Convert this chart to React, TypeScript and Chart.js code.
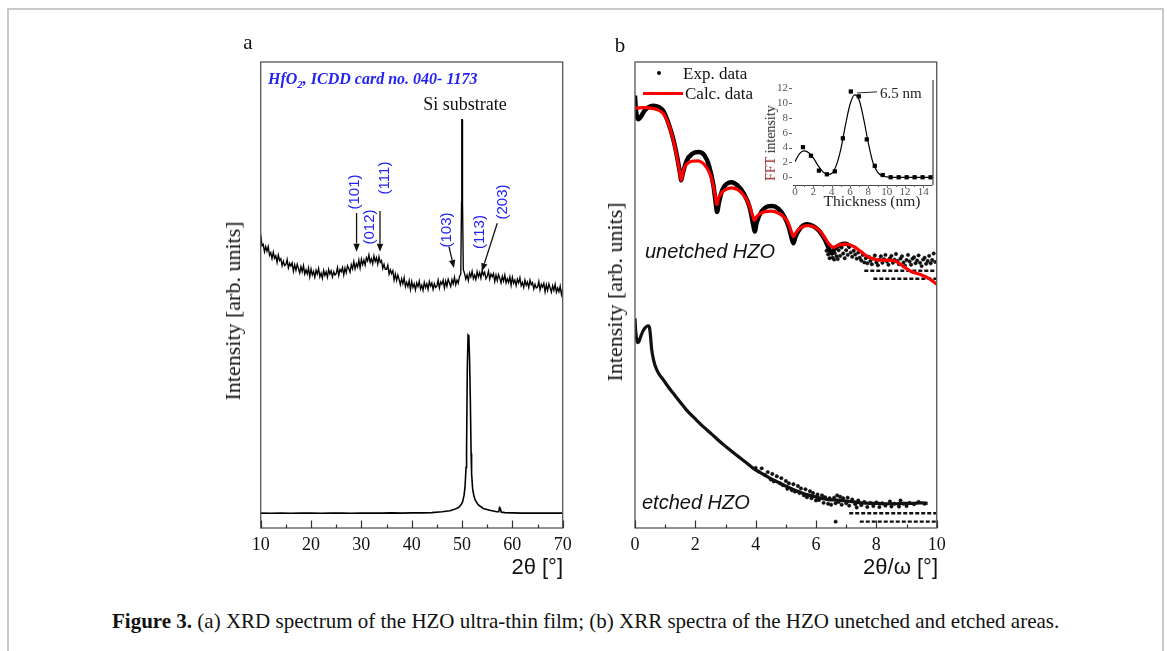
import React, { useEffect, useRef } from "react";
import { Chart, registerables } from "chart.js";
Chart.register(...registerables);

// ---------------- Panel a : XRD ----------------
const xrdFilmAngle = [
  10, 10.25, 10.5, 10.75, 11, 11.25, 11.5, 11.75, 12, 12.25, 12.5, 12.75, 13, 13.25, 13.5, 13.75, 14, 14.25, 14.5, 14.75,
  15, 15.25, 15.5, 15.75, 16, 16.25, 16.5, 16.75, 17, 17.25, 17.5, 17.75, 18, 18.25, 18.5, 18.75, 19, 19.25, 19.5, 19.75,
  20, 20.25, 20.5, 20.75, 21, 21.25, 21.5, 21.75, 22, 22.25, 22.5, 22.75, 23, 23.25, 23.5, 23.75, 24, 24.25, 24.5, 24.75,
  25, 25.25, 25.5, 25.75, 26, 26.25, 26.5, 26.75, 27, 27.25, 27.5, 27.75, 28, 28.25, 28.5, 28.75, 29, 29.25, 29.5, 29.75,
  30, 30.25, 30.5, 30.75, 31, 31.25, 31.5, 31.75, 32, 32.25, 32.5, 32.75, 33, 33.25, 33.5, 33.75, 34, 34.25, 34.5, 34.75,
  35, 35.25, 35.5, 35.75, 36, 36.25, 36.5, 36.75, 37, 37.25, 37.5, 37.75, 38, 38.25, 38.5, 38.75, 39, 39.25, 39.5, 39.75,
  40, 40.25, 40.5, 40.75, 41, 41.25, 41.5, 41.75, 42, 42.25, 42.5, 42.75, 43, 43.25, 43.5, 43.75, 44, 44.25, 44.5, 44.75,
  45, 45.25, 45.5, 45.75, 46, 46.25, 46.5, 46.75, 47, 47.25, 47.5, 47.75, 48, 48.25, 48.5, 48.75, 49, 49.25, 49.5,
  49.75, 49.9, 49.95, 50.05, 50.1, 50.25,
  50.5, 50.75, 51, 51.25, 51.5, 51.75, 52, 52.25, 52.5, 52.75, 53, 53.25, 53.5, 53.75, 54, 54.25, 54.5, 54.75,
  55, 55.25, 55.5, 55.75, 56, 56.25, 56.5, 56.75, 57, 57.25, 57.5, 57.75, 58, 58.25, 58.5, 58.75, 59, 59.25, 59.5, 59.75,
  60, 60.25, 60.5, 60.75, 61, 61.25, 61.5, 61.75, 62, 62.25, 62.5, 62.75, 63, 63.25, 63.5, 63.75, 64, 64.25, 64.5, 64.75,
  65, 65.25, 65.5, 65.75, 66, 66.25, 66.5, 66.75, 67, 67.25, 67.5, 67.75, 68, 68.25, 68.5, 68.75, 69, 69.25, 69.5, 69.75, 70,
];
const xrdFilmIntensity = [
  63.0, 60.6, 60.9, 59.3, 60.4, 59.4, 60.4, 58.5, 59.1, 57.8, 59.2, 57.9, 58.4, 57.0, 58.6, 57.4, 57.8, 56.3, 57.3, 56.3,
  56.5, 57.6, 55.8, 56.8, 56.2, 56.9, 55.1, 56.5, 55.3, 56.6, 55.7, 54.7, 56.1, 55.0, 56.3, 54.5, 55.4, 54.5, 55.8, 53.9,
  55.6, 54.3, 55.1, 53.8, 55.3, 54.5, 55.7, 53.9, 54.7, 53.6, 55.3, 54.2, 55.0, 53.8, 55.5, 54.5, 55.2, 53.9, 55.0, 54.3,
  54.6, 55.9, 54.2, 55.5, 55.0, 55.9, 54.3, 55.8, 54.8, 56.3, 55.7, 54.9, 56.5, 55.6, 57.2, 55.6, 56.7, 56.0, 57.5, 55.8,
  57.7, 56.5, 57.5, 56.4, 58.0, 57.3, 58.6, 57.0, 57.8, 56.7, 58.4, 57.2, 58.0, 56.6, 58.2, 57.0, 57.4, 55.7, 56.6, 55.5,
  55.5, 56.4, 54.5, 55.4, 54.6, 55.2, 53.2, 54.5, 53.1, 54.3, 53.3, 52.2, 53.5, 52.4, 53.7, 51.8, 52.7, 51.8, 53.1, 51.2,
  52.9, 51.6, 52.4, 51.1, 52.6, 51.8, 53.0, 51.3, 52.1, 51.0, 52.7, 51.6, 52.4, 51.2, 52.9, 51.9, 52.6, 51.2, 52.4, 51.6,
  51.9, 53.2, 51.5, 52.8, 52.3, 53.2, 51.5, 53.0, 51.9, 53.4, 52.6, 51.8, 53.3, 52.4, 53.8, 52.2, 53.2, 52.5, 54.0,
  54.5, 70.0, 87.6, 87.6, 70.0, 55.5,
  54.6, 53.4, 54.3, 53.1, 54.7, 53.9, 55.1, 53.5, 54.3, 53.3, 55.0, 53.9, 54.8, 53.6, 55.3, 54.3, 54.9, 53.5,
  54.0, 55.1, 53.4, 54.5, 53.9, 54.6, 52.9, 54.3, 53.1, 54.4, 53.6, 52.6, 54.0, 53.0, 54.3, 52.6, 53.5, 52.7, 53.9, 52.1,
  53.8, 52.5, 53.2, 52.0, 53.4, 52.6, 53.7, 52.0, 52.7, 51.6, 53.2, 52.1, 52.8, 51.6, 53.2, 52.2, 52.7, 51.3, 52.3, 51.5,
  51.7, 52.9, 51.1, 52.3, 51.7, 52.5, 50.7, 52.2, 51.0, 52.4, 51.5, 50.6, 52.0, 51.0, 52.3, 50.6, 51.5, 50.7, 51.9, 50.1, 51.3,
];
const xrdSubAngle = [
  10, 12, 14, 16, 18, 20, 22, 24, 26, 28, 30, 32, 34, 36, 38, 40, 42, 44, 46, 47.6, 48.5, 49.3, 49.8, 50.1,
  50.4, 50.6, 50.8, 50.9, 51.05, 51.2, 51.35, 51.5, 51.65, 51.8, 51.9, 52.1, 52.3, 52.6, 53.2, 54.2, 55.5,
  56.9, 57.3, 57.45, 57.6, 57.8, 58.5, 60, 62, 64, 66, 68, 70,
];
const xrdSubIntensity = [
  3.2, 3.15, 3.2, 3.15, 3.2, 3.2, 3.15, 3.2, 3.2, 3.15, 3.2, 3.2, 3.2, 3.25, 3.2, 3.25, 3.25, 3.3, 3.5, 3.7, 4.0, 4.4, 5.0, 5.6,
  7.0, 8.9, 13.0, 16.7, 34.6, 41.4, 41.2, 36.0, 27.5, 16.0, 11.7, 8.5, 7.2, 6.0, 5.0, 4.2, 3.8,
  3.5, 3.5, 4.4, 4.2, 3.4, 3.3, 3.25, 3.2, 3.2, 3.2, 3.2, 3.2,
];
const xrdTicks = [10, 20, 30, 40, 50, 60, 70];
const xrdMinorTicks = [15, 25, 35, 45, 55, 65];

// ---------------- Panel b : XRR ----------------
const calcAngle = [
  0, 0.3, 0.6, 0.8, 0.94, 1.05, 1.16, 1.27, 1.38, 1.47, 1.53, 1.59, 1.66, 1.77, 1.88, 2.1, 2.25, 2.38, 2.5, 2.6,
  2.67, 2.71, 2.76, 2.87, 3.0, 3.2, 3.4, 3.59, 3.72, 3.81, 3.9, 3.96, 4.02, 4.14, 4.3, 4.53, 4.75, 4.97, 5.08, 5.16,
  5.22, 5.25, 5.3, 5.37, 5.47, 5.6, 5.74, 5.95, 6.13, 6.3, 6.41, 6.5, 6.57, 6.65, 6.8, 7.02, 7.25, 7.49, 7.7, 7.94,
  8.15, 8.38, 8.55, 8.71, 8.9, 9.17, 9.35, 9.5, 9.75, 10,
];
const calcIntensity = [
  90.1, 90.2, 90.0, 89.6, 88.9, 87.6, 85.8, 83.2, 80.0, 76.8, 74.6, 76.3, 77.6, 78.4, 78.7, 78.8, 78.3, 77.3, 75.7, 73.3,
  70.9, 69.4, 70.6, 71.9, 72.6, 73.0, 72.6, 71.5, 70.2, 68.8, 67.0, 66.0, 66.7, 67.4, 67.9, 68.0, 67.6, 66.5, 65.4, 64.0,
  62.9, 62.5, 63.0, 63.7, 64.3, 64.8, 64.9, 64.6, 63.7, 62.2, 61.1, 60.5, 60.2, 60.4, 60.8, 60.9, 60.4, 59.3, 58.3, 57.7,
  57.5, 57.5, 57.4, 57.0, 56.1, 55.0, 54.6, 54.3, 53.5, 52.3,
];
const expAngle = [
  0, 0.02, 0.05, 0.1, 0.15, 0.2, 0.3, 0.45, 0.6, 0.8, 0.94, 1.1, 1.27, 1.4, 1.5, 1.53, 1.58, 1.71, 1.9, 2.1,
  2.3, 2.45, 2.6, 2.68, 2.72, 2.78, 2.9, 3.05, 3.2, 3.4, 3.6, 3.8, 3.92, 3.97, 4.03, 4.2, 4.4, 4.55, 4.75, 4.95,
  5.1, 5.2, 5.25, 5.32, 5.5, 5.7, 5.9, 6.1, 6.3, 6.45, 6.52, 6.6, 6.8, 7.0, 7.15,
];
const expIntensity = [
  92.8, 90.5, 88.8, 87.7, 87.9, 88.3, 89.4, 90.3, 90.6, 90.3, 89.5, 87.0, 83.4, 79.5, 75.8, 74.6, 76.0, 78.8, 80.3, 80.7,
  80.0, 77.8, 73.5, 69.5, 67.8, 69.8, 72.6, 73.9, 74.2, 73.5, 71.8, 68.8, 65.0, 63.6, 65.5, 68.0, 69.0, 69.1, 68.5, 66.8,
  64.5, 62.0, 61.1, 62.5, 64.5, 65.2, 64.8, 63.8, 61.8, 59.6, 58.9, 59.8, 60.8, 61.0, 60.2,
];
const expScatterAngle = [
  6.35, 6.4, 6.45, 6.5, 6.55, 6.6, 6.62, 6.68, 6.72, 6.75, 6.8, 6.85, 6.9, 6.95, 7.0, 7.05, 7.1, 7.15, 7.2, 7.25,
  7.3, 7.35, 7.4, 7.45, 7.5, 7.55, 7.6, 7.65, 7.7, 7.75, 7.8, 7.85, 7.9, 7.95, 8.0, 8.05, 8.1, 8.15, 8.2, 8.25,
  8.3, 8.35, 8.4, 8.45, 8.5, 8.55, 8.6, 8.65, 8.7, 8.75, 8.8, 8.85, 8.9, 8.95, 9.0, 9.05, 9.1, 9.15, 9.2, 9.25,
  9.3, 9.35, 9.4, 9.45, 9.5, 9.55, 9.6, 9.65, 9.7, 9.75, 9.8, 9.85, 9.9, 9.95,
];
const expScatterIntensity = [
  59.5, 58.7, 57.9, 59.2, 58.0, 57.6, 59.0, 58.3, 57.7, 59.6, 58.4, 60.2, 58.9, 57.9, 59.6, 58.6, 60.3, 59.1, 58.2, 59.5,
  58.7, 57.8, 59.1, 58.0, 57.4, 58.6, 57.0, 57.9, 56.8, 58.2, 57.3, 56.6, 57.8, 58.5, 57.0, 56.4, 57.6, 58.3, 56.9, 57.7,
  58.6, 57.2, 56.5, 57.9, 58.4, 56.9, 57.6, 58.8, 57.3, 56.6, 57.8, 58.3, 57.0, 56.3, 57.5, 58.6, 57.2, 56.5, 57.8, 58.1,
  56.8, 57.4, 58.5, 56.9, 56.2, 57.6, 58.0, 56.7, 57.3, 58.4, 56.8, 57.5, 58.9, 57.1,
];
// quantised counting levels (rows of points) at high angle
const expRowLevels = [55.2, 53.5];
const expRowStart = [7.6, 7.9];
const expRowEnd = [10, 10];

const etchedAngle = [
  0, 0.02, 0.05, 0.08, 0.13, 0.19, 0.26, 0.33, 0.39, 0.44, 0.48, 0.51, 0.55, 0.6, 0.66, 0.78, 0.94, 1.1, 1.27, 1.5,
  1.71, 2.0, 2.27, 2.55, 2.82, 3.1, 3.37, 3.65, 3.92, 4.2, 4.47, 4.75, 5.03, 5.3, 5.58, 5.86, 6.14, 6.4, 6.69, 7.0,
  7.24, 7.5, 7.79, 8.05, 8.34, 8.6, 8.9, 9.2, 9.45, 9.7,
];
const etchedIntensity = [
  45.0, 42.5, 40.8, 39.8, 40.0, 41.1, 42.2, 42.9, 43.3, 43.4, 43.0, 41.5, 38.5, 36.5, 35.0, 33.2, 31.8, 30.3, 28.9, 27.0,
  25.3, 23.4, 21.7, 20.1, 18.5, 17.0, 15.6, 14.2, 12.8, 11.7, 10.7, 9.8, 8.9, 8.1, 7.4, 6.9, 6.4, 6.1, 6.0, 5.8,
  5.6, 5.4, 5.3, 5.3, 5.2, 5.2, 5.3, 5.3, 5.4, 5.3,
];
const etchedScatterAngle = [
  4.0, 4.1, 4.2, 4.3, 4.4, 4.5, 4.55, 4.6, 4.7, 4.8, 4.85, 4.9, 5.0, 5.05, 5.1, 5.2, 5.25, 5.3, 5.4, 5.45,
  5.5, 5.6, 5.65, 5.7, 5.8, 5.85, 5.9, 6.0, 6.05, 6.1, 6.2, 6.25, 6.3, 6.4, 6.45, 6.5, 6.6, 6.65, 6.7, 6.75,
  6.8, 6.85, 6.9, 7.0, 7.05, 7.1, 7.2, 7.3, 7.35, 7.4, 7.5, 7.6, 7.7, 7.8, 7.9, 8.0, 8.1, 8.2, 8.3, 8.45,
  8.5, 8.6, 8.75, 8.8, 8.9, 9.0, 9.1, 9.25, 9.4, 9.6, 6.65,
];
const etchedScatterIntensity = [
  12.9, 12.1, 12.8, 11.4, 12.0, 10.4, 11.6, 10.0, 11.1, 9.6, 10.7, 9.2, 10.1, 8.4, 9.6, 8.1, 9.4, 7.8, 9.0, 7.5,
  8.5, 7.0, 8.3, 6.6, 7.9, 6.4, 7.5, 5.9, 7.2, 6.0, 7.0, 5.4, 6.6, 5.2, 6.4, 5.0, 6.5, 5.3, 7.0, 5.6,
  6.7, 5.0, 6.4, 5.3, 6.5, 4.8, 6.1, 5.1, 4.4, 5.9, 4.9, 5.6, 4.5, 5.4, 4.7, 5.5, 4.5, 5.3, 4.8, 5.7,
  4.6, 5.2, 4.6, 5.9, 5.2, 4.7, 5.4, 5.1, 5.6, 5.2, 1.36,
];
const etchedRowLevels = [3.15, 1.36];
const etchedRowStart = [7.1, 7.45];
const etchedRowEnd = [10, 10];

const xrrTicks = [0, 2, 4, 6, 8, 10];
const xrrMinorTicks = [1, 3, 5, 7, 9];

// ---------------- Inset : FFT ----------------
const fftThickness = [0.87, 1.74, 2.61, 3.48, 4.35, 5.22, 6.09, 6.96, 7.83, 8.7, 9.57, 10.44, 11.31, 12.18, 13.05, 13.92, 14.79];
const fftIntensity = [4.05, 2.9, 0.9, 0.4, 0.8, 5.25, 11.55, 10.9, 5.1, 1.55, 0.3, 0.0, 0.0, 0.0, 0.0, 0.0, 0.0];
const fftFitThickness = [0, 0.5, 1, 1.5, 2, 2.5, 3, 3.5, 4, 4.5, 5, 5.5, 6, 6.5, 7, 7.5, 8, 8.5, 9, 9.5, 10, 10.5, 11, 12, 13, 14, 15];
const fftFitIntensity = [2.1, 3.2, 3.55, 3.3, 2.6, 1.6, 0.8, 0.35, 0.5, 1.6, 3.8, 7.0, 9.8, 11.1, 10.4, 7.8, 4.6, 2.0, 0.7, 0.2, 0.05, 0, 0, 0, 0, 0, 0];
const fftXTicks = [0, 2, 4, 6, 8, 10, 12, 14];
const fftXMinor = [1, 3, 5, 7, 9, 11, 13];
const fftYTicks = [0, 2, 4, 6, 8, 10, 12];

const SERIF = '"Liberation Serif", "Times New Roman", serif';
const SANS = '"Liberation Sans", Arial, sans-serif';
const BLUE = "#2424f2";

const pts = (xs: number[], ys: number[]) => xs.map((x, i) => ({ x, y: ys[i] }));

function panelAxesPlugin(major: number[], minor: number[], id: string) {
  return {
    id,
    afterDraw(chart: any) {
      const { ctx, chartArea: a, scales } = chart;
      ctx.save();
      ctx.strokeStyle = "#555";
      ctx.lineWidth = 1.3;
      ctx.strokeRect(a.left, a.top, a.right - a.left, a.bottom - a.top);
      ctx.strokeStyle = "#333";
      ctx.lineWidth = 1.2;
      ctx.beginPath();
      major.forEach((v) => {
        const x = Math.round(scales.x.getPixelForValue(v)) + 0.5;
        ctx.moveTo(x, a.bottom);
        ctx.lineTo(x, a.bottom - 7.5);
      });
      minor.forEach((v) => {
        const x = Math.round(scales.x.getPixelForValue(v)) + 0.5;
        ctx.moveTo(x, a.bottom);
        ctx.lineTo(x, a.bottom - 3.5);
      });
      ctx.stroke();
      ctx.fillStyle = "#111";
      ctx.font = `18px ${SERIF}`;
      ctx.textAlign = "center";
      ctx.textBaseline = "middle";
      major.forEach((v) => {
        ctx.fillText(String(v), scales.x.getPixelForValue(v), a.bottom + 17);
      });
      ctx.restore();
    },
  };
}

// arrows for panel a, in data coordinates [x0, y0, x1, y1]
const arrowSpecs = [
  [29.05, 67.6, 29.05, 59.3],
  [33.7, 68.0, 33.7, 59.3],
  [47.4, 60.4, 48.4, 55.8],
  [57.0, 65.4, 53.95, 55.1],
];
const arrowPlugin = {
  id: "arrows",
  afterDatasetsDraw(chart: any) {
    const { ctx, scales } = chart;
    ctx.save();
    ctx.strokeStyle = "#111";
    ctx.fillStyle = "#111";
    ctx.lineWidth = 1.3;
    arrowSpecs.forEach(([x0, y0, x1, y1]) => {
      const px0 = scales.x.getPixelForValue(x0), py0 = scales.y.getPixelForValue(y0);
      const px1 = scales.x.getPixelForValue(x1), py1 = scales.y.getPixelForValue(y1);
      const ang = Math.atan2(py1 - py0, px1 - px0);
      const L = 8, W = 3.2;
      const bx = px1 - L * Math.cos(ang), by = py1 - L * Math.sin(ang);
      ctx.beginPath();
      ctx.moveTo(px0, py0);
      ctx.lineTo(bx, by);
      ctx.stroke();
      ctx.beginPath();
      ctx.moveTo(px1, py1);
      ctx.lineTo(bx + W * Math.sin(ang), by - W * Math.cos(ang));
      ctx.lineTo(bx - W * Math.sin(ang), by + W * Math.cos(ang));
      ctx.closePath();
      ctx.fill();
    });
    ctx.restore();
  },
};

const insetPlugin = {
  id: "insetAxes",
  afterDraw(chart: any) {
    const { ctx, chartArea: a, scales } = chart;
    ctx.save();
    ctx.strokeStyle = "#444";
    ctx.lineWidth = 1.2;
    ctx.beginPath();
    ctx.moveTo(a.left - 2, a.bottom + 0.5);
    ctx.lineTo(a.right, a.bottom + 0.5);
    ctx.moveTo(a.right + 0.5, a.top);
    ctx.lineTo(a.right + 0.5, a.bottom);
    ctx.stroke();
    ctx.lineWidth = 1;
    ctx.strokeStyle = "#666";
    ctx.beginPath();
    fftYTicks.forEach((v) => {
      const y = Math.round(scales.y.getPixelForValue(v)) + 0.5;
      ctx.moveTo(a.left - 6, y);
      ctx.lineTo(a.left - 3, y);
    });
    fftXTicks.forEach((v) => {
      const x = Math.round(scales.x.getPixelForValue(v)) + 0.5;
      ctx.moveTo(x, a.bottom);
      ctx.lineTo(x, a.bottom + 3);
    });
    fftXMinor.forEach((v) => {
      const x = Math.round(scales.x.getPixelForValue(v)) + 0.5;
      ctx.moveTo(x, a.bottom);
      ctx.lineTo(x, a.bottom + 2);
    });
    ctx.stroke();
    ctx.fillStyle = "#555";
    ctx.font = `11px ${SERIF}`;
    ctx.textBaseline = "middle";
    ctx.textAlign = "right";
    fftYTicks.forEach((v) => ctx.fillText(String(v), a.left - 7, scales.y.getPixelForValue(v)));
    ctx.textAlign = "center";
    fftXTicks.forEach((v) => ctx.fillText(String(v), scales.x.getPixelForValue(v), a.bottom + 7));
    // leader line for the 6.5 nm label
    ctx.strokeStyle = "#222";
    ctx.beginPath();
    ctx.moveTo(scales.x.getPixelForValue(6.76), scales.y.getPixelForValue(11.35));
    ctx.lineTo(scales.x.getPixelForValue(8.95), scales.y.getPixelForValue(11.5));
    ctx.stroke();
    ctx.restore();
  },
};

const baseOptions = (padding: any, xmin: number, xmax: number, ymin: number, ymax: number) => ({
  animation: false as const,
  responsive: false,
  maintainAspectRatio: false,
  devicePixelRatio: 1,
  events: [] as any[],
  layout: { padding },
  plugins: { legend: { display: false }, tooltip: { enabled: false } },
  scales: {
    x: { type: "linear" as const, min: xmin, max: xmax, display: false },
    y: { type: "linear" as const, min: ymin, max: ymax, display: false },
  },
});

const abs = (x: number, y: number, extra: any = {}) => ({
  position: "absolute" as const,
  left: x,
  top: y,
  whiteSpace: "nowrap" as const,
  lineHeight: 1,
  ...extra,
});

export default function App() {
  const aRef = useRef<HTMLCanvasElement>(null);
  const bRef = useRef<HTMLCanvasElement>(null);
  const cRef = useRef<HTMLCanvasElement>(null);

  useEffect(() => {
    const charts: Chart[] = [];
    charts.push(
      new Chart(aRef.current as HTMLCanvasElement, {
        type: "scatter",
        data: {
          datasets: [
            {
              data: pts(xrdFilmAngle, xrdFilmIntensity),
              showLine: true,
              borderColor: "#000",
              borderWidth: 1.35,
              pointRadius: 0,
              tension: 0,
            },
            {
              data: pts(xrdSubAngle, xrdSubIntensity),
              showLine: true,
              borderColor: "#000",
              borderWidth: 1.6,
              pointRadius: 0,
              tension: 0,
            },
          ],
        },
        options: baseOptions({ left: 60.7, right: 37.3, top: 42, bottom: 62 }, 10, 70, 0, 100) as any,
        plugins: [panelAxesPlugin(xrdTicks, xrdMinorTicks, "axesA"), arrowPlugin],
      })
    );

    const rowSets = (levels: number[], s: number[], e: number[]) =>
      levels.map((lv, i) => ({
        data: [
          { x: s[i], y: lv },
          { x: e[i], y: lv },
        ],
        showLine: true,
        borderColor: "#111",
        borderWidth: 2.4,
        borderDash: [4, 2],
        pointRadius: 0,
        order: 3,
      }));

    charts.push(
      new Chart(bRef.current as HTMLCanvasElement, {
        type: "scatter",
        data: {
          datasets: [
            {
              data: pts(calcAngle, calcIntensity),
              showLine: true,
              borderColor: "#ff0000",
              borderWidth: 3.2,
              pointRadius: 0,
              cubicInterpolationMode: "monotone",
              order: 0,
            },
            {
              data: pts(expAngle, expIntensity),
              showLine: true,
              borderColor: "#000",
              borderWidth: 4.5,
              pointRadius: 0,
              cubicInterpolationMode: "monotone",
              order: 2,
            },
            {
              data: pts(expScatterAngle, expScatterIntensity),
              showLine: false,
              backgroundColor: "#111",
              borderColor: "#000",
              borderWidth: 0.5,
              pointRadius: 1.7,
              order: 2,
            },
            ...rowSets(expRowLevels, expRowStart, expRowEnd),
            {
              data: pts(etchedAngle, etchedIntensity),
              showLine: true,
              borderColor: "#111",
              borderWidth: 3.2,
              pointRadius: 0,
              cubicInterpolationMode: "monotone",
              order: 2,
            },
            {
              data: pts(etchedScatterAngle, etchedScatterIntensity),
              showLine: false,
              backgroundColor: "#111",
              borderColor: "#000",
              borderWidth: 0.5,
              pointRadius: 1.7,
              order: 2,
            },
            ...rowSets(etchedRowLevels, etchedRowStart, etchedRowEnd),
          ] as any,
        },
        options: baseOptions({ left: 45, right: 23.3, top: 42, bottom: 62 }, 0, 10, 0, 100) as any,
        plugins: [panelAxesPlugin(xrrTicks, xrrMinorTicks, "axesB")],
      })
    );

    charts.push(
      new Chart(cRef.current as HTMLCanvasElement, {
        type: "scatter",
        data: {
          datasets: [
            {
              data: pts(fftThickness, fftIntensity),
              showLine: false,
              pointStyle: "rect",
              pointRadius: 3,
              backgroundColor: "#000",
              borderColor: "#000",
              borderWidth: 0,
              clip: false,
              order: 0,
            },
            {
              data: pts(fftFitThickness, fftFitIntensity),
              showLine: true,
              borderColor: "#000",
              borderWidth: 1.2,
              pointRadius: 0,
              cubicInterpolationMode: "monotone",
              order: 1,
            },
          ] as any,
        },
        options: baseOptions({ left: 35, right: 17.5, top: 10, bottom: 25 }, 0, 15, -1.04, 13.1) as any,
        plugins: [insetPlugin],
      })
    );
    return () => charts.forEach((c) => c.destroy());
  }, []);

  const rotLabel = (text: string, cx: number, cy: number) => (
    <div
      key={text + cx}
      style={abs(cx, cy, {
        transform: "translate(-50%,-50%) rotate(-90deg)",
        fontFamily: SANS,
        fontSize: 15,
        color: BLUE,
      })}
    >
      {text}
    </div>
  );

  return (
    <div style={{ position: "absolute", left: 0, top: 0, width: 1167, height: 651, overflow: "hidden", background: "#fff" }}>
      {/* outer figure frame */}
      <div
        style={{
          position: "absolute",
          left: 7,
          top: 8,
          width: 1153,
          height: 700,
          borderLeft: "2px solid #c8c8c8",
          borderTop: "2px solid #c8c8c8",
          borderRight: "2px solid #c8c8c8",
        }}
      />
      <canvas ref={aRef} width={400} height={570} style={{ position: "absolute", left: 200, top: 20, width: 400, height: 570 }} />
      <canvas ref={bRef} width={370} height={570} style={{ position: "absolute", left: 590, top: 20, width: 370, height: 570 }} />
      <canvas ref={cRef} width={190} height={140} style={{ position: "absolute", left: 760, top: 70, width: 190, height: 140 }} />

      {/* panel letters */}
      <div style={abs(248, 42, { transform: "translate(-50%,-50%)", fontFamily: SERIF, fontSize: 21, color: "#111" })}>a</div>
      <div style={abs(620, 45, { transform: "translate(-50%,-50%)", fontFamily: SERIF, fontSize: 21, color: "#111" })}>b</div>

      {/* axis titles */}
      <div style={abs(233, 311, { transform: "translate(-50%,-50%) rotate(-90deg)", fontFamily: SERIF, fontSize: 22, color: "#111" })}>
        Intensity [arb. units]
      </div>
      <div style={abs(615, 292, { transform: "translate(-50%,-50%) rotate(-90deg)", fontFamily: SERIF, fontSize: 22, color: "#111" })}>
        Intensity [arb. units]
      </div>
      <div style={abs(563, 567, { transform: "translate(-100%,-50%)", fontFamily: SANS, fontSize: 22, color: "#111" })}>2θ [°]</div>
      <div style={abs(938, 567, { transform: "translate(-100%,-50%)", fontFamily: SANS, fontSize: 22, color: "#111" })}>2θ/ω [°]</div>

      {/* panel a annotations */}
      <div
        style={abs(268, 80, {
          transform: "translate(0,-50%)",
          fontFamily: SERIF,
          fontSize: 16,
          fontWeight: "bold",
          fontStyle: "italic",
          color: BLUE,
        })}
      >
        HfO<sub style={{ fontSize: 11, verticalAlign: "-4px" }}>2</sub>, ICDD card no. 040- 1173
      </div>
      <div style={abs(465, 104, { transform: "translate(-50%,-50%)", fontFamily: SERIF, fontSize: 18, color: "#111" })}>Si substrate</div>
      {rotLabel("(101)", 353.3, 191.7)}
      {rotLabel("(012)", 368.3, 226.7)}
      {rotLabel("(111)", 382.7, 178.3)}
      {rotLabel("(103)", 445, 230)}
      {rotLabel("(113)", 478.3, 231.7)}
      {rotLabel("(203)", 500.7, 201.7)}

      {/* panel b legend */}
      <div style={{ position: "absolute", left: 657, top: 71, width: 4, height: 4, borderRadius: 2, background: "#000" }} />
      <div style={abs(683, 73, { transform: "translate(0,-50%)", fontFamily: SERIF, fontSize: 17, color: "#111" })}>Exp. data</div>
      <div style={{ position: "absolute", left: 643, top: 91.5, width: 40, height: 3.5, background: "#ff0000" }} />
      <div style={abs(685, 93, { transform: "translate(0,-50%)", fontFamily: SERIF, fontSize: 17, color: "#111" })}>Calc. data</div>

      <div style={abs(645, 251, { transform: "translate(0,-50%)", fontFamily: SANS, fontStyle: "italic", fontSize: 20, color: "#111" })}>
        unetched HZO
      </div>
      <div style={abs(642, 502, { transform: "translate(0,-50%)", fontFamily: SANS, fontStyle: "italic", fontSize: 20, color: "#111" })}>
        etched HZO
      </div>

      {/* inset labels */}
      <div style={abs(771, 143, { transform: "translate(-50%,-50%) rotate(-90deg)", fontFamily: SERIF, fontSize: 14, color: "#222" })}>
        <span style={{ color: "#8b1c1c" }}>FFT</span> intensity
      </div>
      <div style={abs(872, 201, { transform: "translate(-50%,-50%)", fontFamily: SERIF, fontSize: 15.5, color: "#222" })}>
        Thickness (nm)
      </div>
      <div style={abs(880, 93, { transform: "translate(0,-50%)", fontFamily: SERIF, fontSize: 15, color: "#222" })}>6.5 nm</div>

      {/* caption */}
      <div style={abs(112, 621, { transform: "translate(0,-50%)", fontFamily: SERIF, fontSize: 21, color: "#111" })}>
        <b>Figure 3.</b> (a) XRD spectrum of the HZO ultra-thin film; (b) XRR spectra of the HZO unetched and etched areas.
      </div>
    </div>
  );
}
